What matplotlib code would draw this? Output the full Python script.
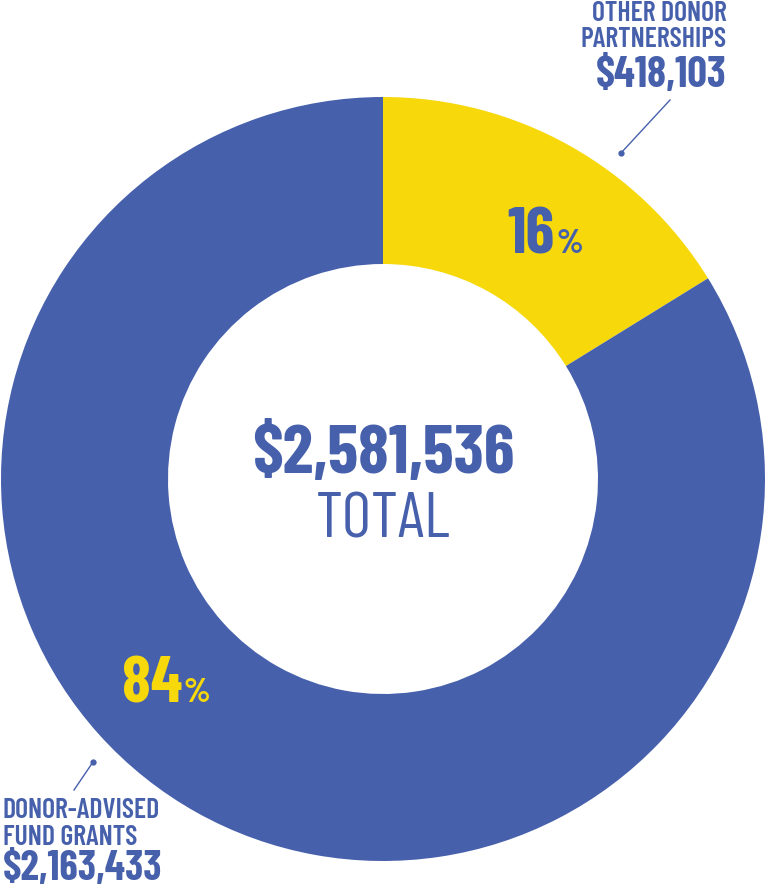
import matplotlib
matplotlib.use('Agg')
from matplotlib import pyplot as plt

W, H = 765, 888

labels = ['OTHER DONOR\nPARTNERSHIPS', 'DONOR-ADVISED\nFUND GRANTS']
amounts = [418103, 2163433]
amount_labels = ['$418,103', '$2,163,433']
pct_labels = ['16', '84']
total_label = '$2,581,536'

BLUE = '#4660ac'
YELLOW = '#f6d80b'
FONT = ['Barlow Condensed', 'DejaVu Sans']

plt.rcParams['font.family'] = FONT


def Y(py):
    # pixel row (from top) -> data y
    return H - py


def main():
    fig = plt.figure(figsize=(W / 100, H / 100), dpi=100)
    ax = fig.add_axes([0, 0, 1, 1])

    cx, cy, r_out, r_in = 383, 479, 382, 215
    ax.pie(amounts, colors=[YELLOW, BLUE], startangle=90, counterclock=False,
           radius=r_out, center=(cx, Y(cy)),
           wedgeprops=dict(width=r_out - r_in, linewidth=0))

    ax.set_xlim(0, W)
    ax.set_ylim(0, H)
    ax.set_aspect('equal')
    ax.axis('off')

    # centre total
    ax.text(cx, Y(473), total_label, ha='center', va='baseline',
            fontsize=50, fontweight=700, color=BLUE)
    ax.text(cx, Y(538), 'TOTAL', ha='center', va='baseline',
            fontsize=46, fontweight=400, color=BLUE)

    # percentages
    ax.text(555, Y(253), pct_labels[0], ha='right', va='baseline',
            fontsize=47, fontweight=700, color=BLUE)
    ax.text(557, Y(253), '%', ha='left', va='baseline',
            fontsize=25, fontweight=700, color=BLUE)
    ax.text(182, Y(702), pct_labels[1], ha='right', va='baseline',
            fontsize=47, fontweight=700, color=YELLOW)
    ax.text(184, Y(702), '%', ha='left', va='baseline',
            fontsize=25, fontweight=700, color=YELLOW)

    # top-right label
    ax.text(727, Y(47), labels[0], ha='right', va='baseline',
            fontsize=20, fontweight=600, color=BLUE, linespacing=1.05)
    ax.text(727, Y(87), amount_labels[0], ha='right', va='baseline',
            fontsize=31, fontweight=700, color=BLUE)
    ax.plot([621, 670], [Y(153), Y(100)], color=BLUE, lw=1)
    ax.plot([621], [Y(153)], 'o', color=BLUE, ms=3.5)

    # bottom-left label
    ax.text(3, Y(845), labels[1], ha='left', va='baseline',
            fontsize=20, fontweight=600, color=BLUE, linespacing=1.1)
    ax.text(3, Y(880), amount_labels[1], ha='left', va='baseline',
            fontsize=30, fontweight=700, color=BLUE)
    ax.plot([93, 74], [Y(762), Y(790)], color=BLUE, lw=1)
    ax.plot([93], [Y(762)], 'o', color=BLUE, ms=3.5)

    fig.savefig('out.png', dpi=100, facecolor='white')


if __name__ == '__main__':
    main()
